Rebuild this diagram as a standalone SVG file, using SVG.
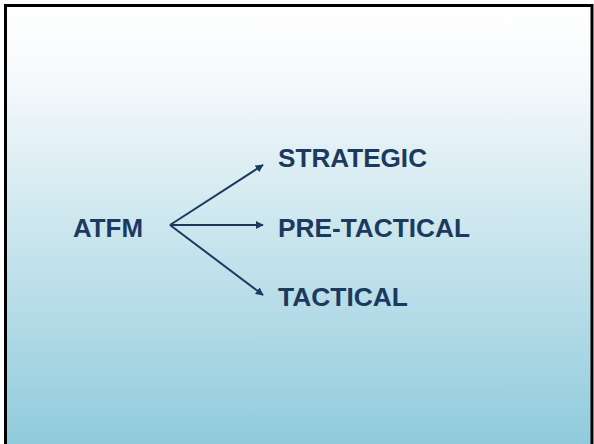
<svg xmlns="http://www.w3.org/2000/svg" width="594" height="444" viewBox="0 0 594 444">
<defs>
<linearGradient id="bg" x1="0" y1="0" x2="0" y2="1">
<stop offset="0" stop-color="#ffffff"/>
<stop offset="0.15" stop-color="#f7fafc"/>
<stop offset="1" stop-color="#8ecadb"/>
</linearGradient>
<marker id="ah" viewBox="0 0 10 10" refX="9" refY="5" markerWidth="4" markerHeight="4" orient="auto" markerUnits="strokeWidth">
<path d="M0,0 L10,5 L0,10 z" fill="#1c3a60"/>
</marker>
<style>
.t{font-family:"Liberation Sans",Arial,sans-serif;font-weight:bold;font-size:26px;fill:#1c3a60}
.c{stroke:#1c3a60;stroke-width:2;fill:none;marker-end:url(#ah)}
</style>
</defs>
<rect x="0" y="0" width="594" height="444" fill="#ffffff"/>
<rect x="5.5" y="5.5" width="586.5" height="445" fill="url(#bg)" stroke="#000" stroke-width="3"/>
<g id="connectors">
<line class="c" x1="170" y1="225" x2="263" y2="165"/>
<line class="c" x1="170" y1="225" x2="263" y2="225"/>
<line class="c" x1="170" y1="225" x2="263" y2="295"/>
</g>
<g id="atfm"><text class="t" x="73" y="237" textLength="70" lengthAdjust="spacingAndGlyphs">ATFM</text></g>
<g id="strategic"><text class="t" x="278" y="167" textLength="149" lengthAdjust="spacingAndGlyphs">STRATEGIC</text></g>
<g id="pretactical"><text class="t" x="278" y="237" textLength="192" lengthAdjust="spacingAndGlyphs">PRE-TACTICAL</text></g>
<g id="tactical"><text class="t" x="278" y="306" textLength="130" lengthAdjust="spacingAndGlyphs">TACTICAL</text></g>
</svg>
